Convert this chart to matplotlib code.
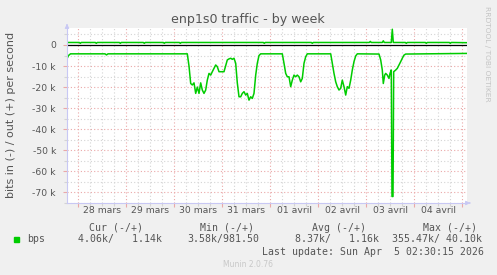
import matplotlib
matplotlib.use('Agg')
import matplotlib.pyplot as plt

# hours since 28 mars 00:00 (one munin sample = 30 min)
in_hours = [-5.65, -4.9, -3.9, 13.35, 14.1, 14.85, 54.5, 55.35, 56.2, 57.0, 57.85,
            58.7, 59.5, 60.35, 61.2, 62.0, 62.85, 63.7, 64.5, 65.35, 66.2, 67.0,
            67.85, 68.7, 69.5, 70.35, 72.85, 74.5, 75.35, 76.2, 77.0, 77.85, 78.7,
            79.5, 80.35, 81.2, 82.0, 82.85, 83.7, 84.5, 85.35, 86.2, 87.0, 87.85,
            88.7, 89.5, 90.35, 91.2, 102.0, 102.85, 103.7, 104.5, 105.35, 106.2,
            107.0, 107.85, 108.7, 109.5, 110.35, 111.2, 112.0, 112.85, 113.7, 114.5,
            126.2, 127.0, 127.85, 128.7, 129.5, 130.35, 131.2, 132.0, 132.85, 133.7,
            134.5, 135.35, 136.2, 137.0, 137.85, 138.7, 139.5, 150.35, 151.2, 152.0,
            152.5, 153.2, 153.7, 154.5, 155.35, 155.85, 156.5, 156.85, 157.35, 157.7,
            158.7, 159.5, 160.35, 161.2, 162.0, 162.85, 163.7, 194.35]
in_bps = [-6.5, -5.0, -4.2, -4.2, -4.7, -4.2, -4.2, -10.0, -18.3, -19.0, -18.0,
          -23.0, -20.0, -23.0, -18.0, -21.4, -23.0, -21.4, -16.7, -13.5, -14.3, -12.7,
          -11.1, -9.5, -10.3, -12.7, -12.7, -7.1, -6.6, -6.3, -6.8, -6.3, -8.7,
          -18.0, -24.6, -24.6, -23.0, -22.2, -23.8, -23.0, -26.2, -24.6, -25.4, -23.0,
          -14.3, -8.7, -5.0, -4.2, -4.2, -8.7, -13.5, -15.1, -15.1, -19.8,
          -16.7, -14.3, -15.1, -14.3, -15.1, -17.5, -15.9, -8.7, -5.6, -4.2,
          -4.2, -8.7, -13.5, -17.5, -19.8, -21.4, -20.6, -16.7, -19.8, -23.8,
          -19.8, -20.6, -16.7, -11.9, -7.9, -5.2, -4.2, -4.3, -7.1, -11.9,
          -18.3, -14.3, -13.5, -14.3, -15.9, -13.5, -11.9, -72.0, -72.0, -12.7,
          -11.9, -11.1, -9.5, -7.9, -6.3, -4.8, -4.3, -4.0]

out_hours = [-5.65, 0.5, 1.0, 1.5, 8.5, 9.0, 9.5, 20.5, 21.0, 21.5, 32.5, 33.0, 33.5,
             42.5, 43.0, 43.5, 50.5, 51.0, 51.5, 92.5, 93.0, 93.5, 116.5, 117.0, 117.5,
             145.5, 146.0, 146.5, 152.0, 152.5, 153.0, 156.5, 157.0, 157.5, 163.5,
             164.0, 164.5, 173.5, 174.0, 174.5, 185.5, 186.0, 186.5, 194.35]
out_bps = [1.2, 1.2, 0.8, 1.2, 1.2, 0.8, 1.2, 1.2, 0.8, 1.2, 1.2, 0.8, 1.2,
           1.2, 0.8, 1.2, 1.2, 0.8, 1.2, 1.2, 0.8, 1.2, 1.2, 0.8, 1.2,
           1.2, 1.7, 1.2, 1.2, 2.0, 1.2, 1.2, 7.5, 1.2, 1.2,
           0.8, 1.2, 1.2, 0.8, 1.2, 1.2, 0.8, 1.2, 1.1]

day_labels = ['28 mars', '29 mars', '30 mars', '31 mars', '01 avril', '02 avril', '03 avril', '04 avril']
y_ticks = [0, -10, -20, -30, -40, -50, -60, -70]

legend_head = ['Cur (-/+)', 'Min (-/+)', 'Avg (-/+)', 'Max (-/+)']
legend_vals = ['4.06k/   1.14k', '3.58k/981.50', '8.37k/   1.16k', '355.47k/ 40.10k']

W, H = 497, 275
green = '#00cc00'
txt = '#555555'
axis_col = '#c8c8f4'


def px(x, y):
    return x / W, 1 - y / H


fig = plt.figure(figsize=(W / 100, H / 100), dpi=100, facecolor='#f0f0f0')
ax = fig.add_axes([67 / W, 1 - 203 / H, 400 / W, 175 / H])
ax.set_facecolor('white')

ax.set_xlim(-5.65, 194.35)
ax.set_ylim(-75.1, 8.08)

# grid: minor grey, major reddish
ax.set_xticks([24 * i for i in range(9)])
ax.set_xticks([6 * i for i in range(-0, 33) if i % 4], minor=True)
ax.set_yticks(y_ticks)
ax.set_yticks([5, -5, -15, -25, -35, -45, -55, -65, -75], minor=True)
ax.grid(True, which='minor', color='#d4d4d4', linestyle=(0, (1, 2)), linewidth=0.8)
ax.grid(True, which='major', color='#eaa8a8', linestyle=(0, (1, 2)), linewidth=0.8)
ax.set_axisbelow(True)

ax.set_xticklabels([])
for i, lab in enumerate(day_labels):
    ax.text(24 * i + 12, -78.9, lab, ha='center', va='center', fontsize=6.7, color=txt)
ax.set_yticklabels(['0' if v == 0 else f'{v} k' for v in y_ticks], fontsize=6.7, color=txt)

ax.tick_params(which='major', length=3, width=0.8, color='#eaa8a8', pad=5)
ax.tick_params(which='minor', length=2, width=0.8, color='#d4d4d4')

for s in ['top', 'right']:
    ax.spines[s].set_visible(False)
for s in ['left', 'bottom']:
    ax.spines[s].set_color(axis_col)
    ax.spines[s].set_linewidth(0.8)

# axis arrows
ax.annotate('', xy=(0, 1.04), xytext=(0, 1.0), xycoords='axes fraction',
            arrowprops=dict(arrowstyle='-|>', color=axis_col, lw=0.8, mutation_scale=6))
ax.annotate('', xy=(1.015, 0), xytext=(1.0, 0), xycoords='axes fraction',
            arrowprops=dict(arrowstyle='-|>', color=axis_col, lw=0.8, mutation_scale=6))

ax.axhline(0, color='black', lw=0.9)
ax.plot(out_hours, out_bps, color=green, lw=1.1)
ax.plot(in_hours, in_bps, color=green, lw=1.1)

fig.text(*px(248, 22.5), 'enp1s0 traffic - by week', ha='center', va='baseline',
         fontsize=9.1, color=txt)
fig.text(*px(11, 115), 'bits in (-) / out (+) per second', ha='center', va='center',
         rotation=90, fontsize=8, color=txt)
fig.text(*px(487, 53.5), 'RRDTOOL / TOBI OETIKER', ha='center', va='center',
         rotation=270, fontsize=5.4, color='#c4c4c4')

mono = dict(family='DejaVu Sans Mono', fontsize=7.1, color=txt, va='center')
for xs, head in zip([89, 200, 312, 423], legend_head):
    fig.text(*px(xs, 227.7), head, ha='left', **mono)
for xs, val in zip([78, 187, 295, 391.7], legend_vals):
    fig.text(*px(xs, 239.3), val, ha='left', **mono)
fig.text(*px(27, 239.3), 'bps', ha='left', **mono)
fig.patches.append(plt.Rectangle(px(14, 242), 5.3 / W, 5.3 / H, transform=fig.transFigure,
                                 color=green, figure=fig))
fig.text(*px(261.7, 251.7), 'Last update: Sun Apr  5 02:30:15 2026', ha='left', **mono)
fig.text(*px(248, 264.3), 'Munin 2.0.76', ha='center', va='center', fontsize=5.5,
         color='#c8c8c8')

fig.savefig('out.png', dpi=100, facecolor=fig.get_facecolor())
